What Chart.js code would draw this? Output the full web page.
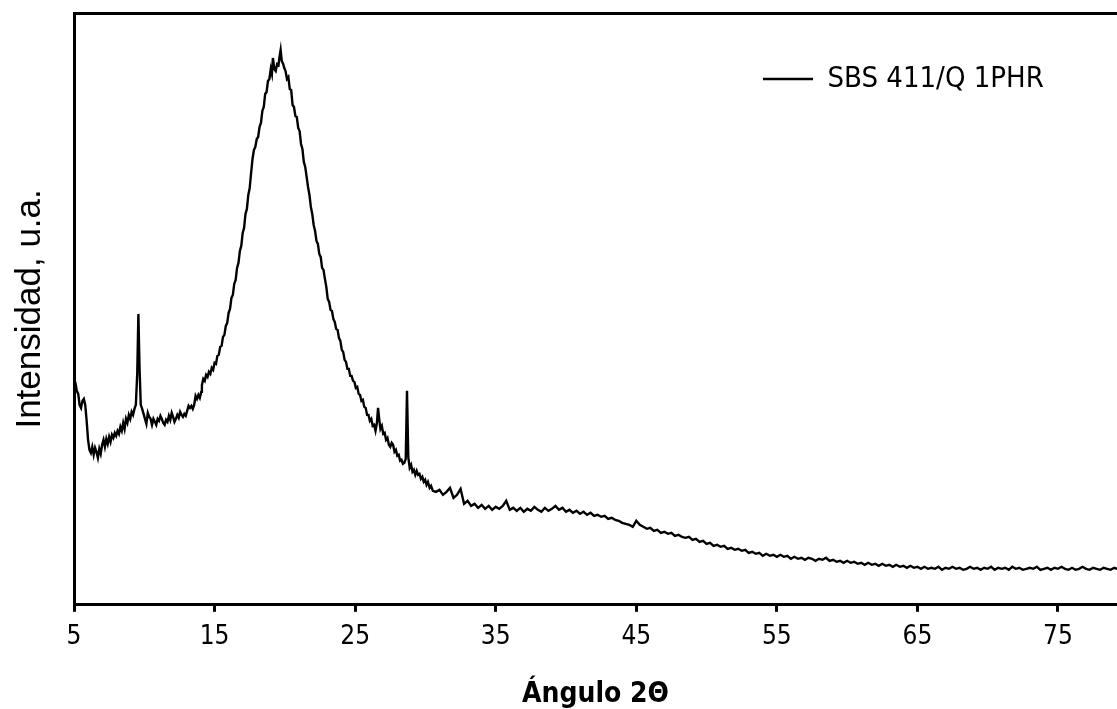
<!DOCTYPE html>
<html>
<head>
<meta charset="utf-8">
<script src="https://cdn.jsdelivr.net/npm/chart.js@4/dist/chart.umd.min.js"></script>
<style>
  html, body { margin: 0; padding: 0; background: #fff; overflow: hidden; }
</style>
</head>
<body>
<canvas id="xrd" width="1117" height="709"></canvas>
<script>
// 2-theta angles (degrees) and diffracted intensity (arbitrary units)
const angles = [
  5.0, 5.1, 5.2, 5.3, 5.4, 5.5, 5.6, 5.7, 5.8, 5.9, 6.0, 6.1, 6.2, 6.3, 6.4, 6.5, 6.6, 6.7, 6.8, 6.9,
  7.0, 7.1, 7.2, 7.3, 7.4, 7.5, 7.6, 7.7, 7.8, 7.9, 8.0, 8.1, 8.2, 8.3, 8.4, 8.5, 8.6, 8.7, 8.8, 8.9,
  9.0, 9.1, 9.2, 9.3, 9.4, 9.5, 9.58, 9.66, 9.75, 9.85, 9.95, 10.05, 10.15, 10.25, 10.35, 10.45, 10.55,
  10.65, 10.75, 10.85, 10.95, 11.05, 11.15, 11.25, 11.35, 11.45, 11.55, 11.65, 11.75, 11.85, 11.95,
  12.05, 12.15, 12.25, 12.35, 12.45, 12.55, 12.65, 12.75, 12.85, 12.95, 13.05, 13.15, 13.25, 13.35,
  13.45, 13.55, 13.65, 13.75, 13.85, 13.95, 14.05,
  14.1, 14.2, 14.3, 14.4, 14.5, 14.6, 14.7, 14.8, 14.9, 15.0,
  15.1, 15.2, 15.3, 15.4, 15.5, 15.6, 15.7, 15.8, 15.9, 16.0,
  16.1, 16.2, 16.3, 16.4, 16.5, 16.6, 16.7, 16.8, 16.9, 17.0,
  17.1, 17.2, 17.3, 17.4, 17.5, 17.6, 17.7, 17.8, 17.9, 18.0,
  18.1, 18.2, 18.3, 18.4, 18.5, 18.6, 18.7, 18.8, 18.9, 19.0,
  19.08, 19.15, 19.25, 19.35, 19.45, 19.55, 19.62, 19.7, 19.78, 19.88,
  19.96, 20.05, 20.15, 20.25, 20.35, 20.45, 20.55, 20.65, 20.75, 20.85,
  20.95, 21.05, 21.15, 21.25, 21.35, 21.45, 21.55, 21.65, 21.75, 21.85,
  21.95, 22.05, 22.15, 22.25, 22.35, 22.45, 22.55, 22.65, 22.75, 22.85,
  22.95, 23.05, 23.15, 23.25, 23.35, 23.45, 23.55, 23.65, 23.75, 23.85,
  23.95, 24.05, 24.15, 24.25, 24.35, 24.45, 24.55, 24.65, 24.75, 24.85,
  24.95, 25.05, 25.15, 25.25, 25.35, 25.45, 25.55, 25.65, 25.75, 25.85,
  25.95, 26.05, 26.15, 26.25, 26.35, 26.45, 26.55, 26.63, 26.72, 26.8,
  26.9, 27.0, 27.1, 27.2, 27.3, 27.4, 27.5, 27.6, 27.7, 27.8,
  27.9, 28.0, 28.1, 28.2, 28.3, 28.4, 28.5, 28.6, 28.69, 28.78,
  28.88, 28.98, 29.08, 29.18, 29.28, 29.38, 29.48, 29.58, 29.68, 29.78,
  29.88, 29.98, 30.08, 30.18, 30.3, 30.4, 30.53,
  30.75, 31.0, 31.25, 31.5, 31.75, 32.0, 32.25, 32.5, 32.75, 33.0, 33.25, 33.5, 33.75, 34.0, 34.25,
  34.5, 34.75, 35.0, 35.25, 35.5, 35.75, 36.0, 36.25, 36.5, 36.75, 37.0, 37.25, 37.5, 37.75, 38.0,
  38.25, 38.5, 38.75, 39.0, 39.25, 39.5, 39.75, 40.0, 40.25, 40.5, 40.75, 41.0, 41.25, 41.5, 41.75,
  42.0, 42.25, 42.5, 42.75, 43.0, 43.25, 43.5, 43.75, 44.0, 44.25, 44.5, 44.75, 45.0, 45.25, 45.5,
  45.75, 46.0, 46.25, 46.5, 46.75, 47.0, 47.25, 47.5, 47.75, 48.0, 48.25, 48.5, 48.75, 49.0, 49.25,
  49.5, 49.75, 50.0, 50.25, 50.5, 50.75, 51.0, 51.25, 51.5, 51.75, 52.0, 52.25, 52.5, 52.75, 53.0,
  53.25, 53.5, 53.75, 54.0, 54.25, 54.5, 54.75, 55.0, 55.25, 55.5, 55.75, 56.0, 56.25, 56.5, 56.75,
  57.0, 57.25, 57.5, 57.75, 58.0, 58.25, 58.5, 58.75, 59.0, 59.25, 59.5, 59.75, 60.0, 60.25, 60.5,
  60.75, 61.0, 61.25, 61.5, 61.75, 62.0, 62.25, 62.5, 62.75, 63.0, 63.25, 63.5, 63.75, 64.0, 64.25,
  64.5, 64.75, 65.0, 65.25, 65.5, 65.75, 66.0, 66.25, 66.5, 66.75, 67.0, 67.25, 67.5, 67.75, 68.0,
  68.25, 68.5, 68.75, 69.0, 69.25, 69.5, 69.75, 70.0, 70.25, 70.5, 70.75, 71.0, 71.25, 71.5, 71.75,
  72.0, 72.25, 72.5, 72.75, 73.0, 73.25, 73.5, 73.75, 74.0, 74.25, 74.5, 74.75, 75.0, 75.25, 75.5,
  75.75, 76.0, 76.25, 76.5, 76.75, 77.0, 77.25, 77.5, 77.75, 78.0, 78.25, 78.5, 78.75, 79.0, 79.2
];

const intensity = [
  226, 222, 214, 211, 200, 197, 204, 206, 200, 184, 165, 155, 152, 158, 150, 157, 153, 147, 156, 151,
  160, 165, 158, 166, 161, 168, 163, 170, 167, 172, 169, 174, 171, 178, 174, 182, 176, 186, 182, 190,
  186, 193, 190, 196, 200, 232, 291, 238, 200, 196, 191, 186, 181, 192, 188, 186, 180,
  186, 183, 180, 186, 184, 189, 186, 182, 180, 185, 183, 189, 185, 192,
  188, 183, 186, 190, 187, 193, 190, 188, 191, 189, 194, 199, 197, 199,
  196, 200, 209, 206, 210, 207, 213,
  220, 226, 224, 230, 228, 233, 231, 237, 235, 242,
  241, 249, 250, 258, 259, 268, 270, 279, 282, 292,
  296, 307, 310, 321, 325, 337, 342, 354, 359, 372,
  377, 391, 396, 410, 417, 432, 446, 455, 458, 466,
  468, 478, 482, 494, 498, 511, 513, 524, 526, 536,
  531, 547, 536, 534, 541, 540, 548, 555, 544, 541,
  537, 534, 526, 528, 516, 515, 500, 498, 489, 488,
  477, 474, 461, 456, 443, 438, 428, 418, 410, 398,
  391, 380, 374, 364, 361, 351, 348, 337, 335, 326,
  318, 306, 303, 295, 294, 286, 283, 276, 275, 267,
  264, 255, 253, 245, 243, 236, 236, 229, 229, 224,
  223, 217, 218, 211, 210, 204, 205, 198, 197, 190,
  190, 184, 186, 179, 180, 174, 182, 197, 185, 176,
  179, 171, 172, 165, 167, 160, 158, 162, 160, 153,
  155, 149, 150, 144, 145, 141, 142, 146, 214, 148,
  137, 140, 133, 135, 130, 134, 130, 131, 126, 128,
  123, 125, 120, 123, 117, 119, 114,
  113, 115, 110, 113, 117, 107, 110, 116, 101, 104, 99, 101, 97, 100, 96,
  99, 95, 98, 96, 99, 104, 95, 97, 94, 97, 93, 96, 94, 98, 95,
  93, 97, 94, 96, 99, 95, 97, 93, 95, 92, 94, 91, 93, 90, 92,
  89, 90, 88, 89, 86, 87, 85, 84, 82, 81, 80, 78, 84, 80, 78,
  76, 77, 74, 75, 72, 73, 71, 72, 69, 70, 68, 67, 68, 65, 66,
  63, 64, 61, 62, 59, 60, 58, 59, 56, 57, 55, 56, 54, 55, 52,
  53, 51, 52, 49, 51, 49, 50, 48, 50, 48, 49, 46, 48, 46, 47,
  45, 47, 46, 44, 46, 45, 47, 44, 45, 43, 44, 42, 44, 42, 43,
  41, 42, 40, 42, 40, 41, 39, 41, 39, 40, 38, 40, 38, 39, 37,
  39, 37, 38, 36, 38, 36, 37, 36, 38, 35, 37, 36, 38, 36, 37,
  35, 36, 38, 36, 37, 35, 37, 36, 38, 35, 37, 36, 37, 35, 38,
  36, 37, 35, 36, 37, 36, 38, 35, 36, 37, 35, 37, 36, 38, 36,
  35, 37, 35, 36, 38, 36, 35, 37, 36, 35, 37, 36, 35, 37, 36
];

const xTicks = [5, 15, 25, 35, 45, 55, 65, 75];
const seriesName = 'SBS 411/Q 1PHR';

const narrow = '"Liberation Sans Narrow", "Arial Narrow", "DejaVu Sans Condensed", sans-serif';

// legend box sits inside the plot, upper right
const legendPlace = {
  id: 'legendPlace',
  afterLayout(chart) {
    const lg = chart.legend;
    const area = chart.chartArea;
    lg.left = area.right - 362;
    lg.right = area.right;
    lg.top = area.top + 43.5;
  }
};

const ctx = document.getElementById('xrd').getContext('2d');
new Chart(ctx, {
  type: 'line',
  data: {
    datasets: [{
      label: seriesName,
      data: angles.map((a, i) => ({ x: a, y: intensity[i] })),
      borderColor: '#000',
      backgroundColor: '#000',
      borderWidth: 2.4,
      pointRadius: 0,
      fill: false,
      tension: 0,
      xAxisID: 'x',
      yAxisID: 'y'
    }]
  },
  options: {
    responsive: false,
    animation: false,
    devicePixelRatio: 1,
    events: [],
    layout: { padding: { top: 13, right: 0, bottom: 0, left: 9 } },
    scales: {
      x: {
        type: 'linear',
        position: 'bottom',
        min: 5,
        max: 79.2,
        afterBuildTicks: s => { s.ticks = xTicks.map(v => ({ value: v })); },
        grid: { display: true, drawOnChartArea: false, drawTicks: true, tickLength: 7, tickWidth: 3, tickColor: '#000' },
        border: { display: true, color: '#000', width: 3 },
        ticks: { color: '#000', font: { family: narrow, size: 26 }, padding: 10, maxRotation: 0, autoSkip: false },
        title: {
          display: true,
          text: 'Ángulo 2Θ',
          color: '#000',
          font: { family: narrow, size: 28, weight: 'bold', lineHeight: 1 },
          padding: { top: 18, bottom: 0 }
        }
      },
      x2: {
        type: 'linear',
        position: 'top',
        min: 5,
        max: 79.2,
        grid: { display: false, drawTicks: false },
        ticks: { display: false },
        border: { display: true, color: '#000', width: 3 }
      },
      y: {
        min: 0,
        max: 592,
        grid: { display: false, drawTicks: false },
        ticks: { display: false },
        border: { display: true, color: '#000', width: 3 },
        title: {
          display: true,
          text: 'Intensidad, u.a.',
          color: '#000',
          font: { family: '"Liberation Sans", Arial, sans-serif', size: 35 },
          padding: { top: 0, bottom: 23 }
        }
      }
    },
    plugins: {
      legend: {
        display: true,
        position: 'chartArea',
        align: 'start',
        labels: {
          color: '#000',
          font: { family: narrow, size: 29 },
          usePointStyle: true,
          pointStyle: 'line',
          pointStyleWidth: 50,
          padding: 8
        }
      },
      tooltip: { enabled: false }
    }
  },
  plugins: [legendPlace]
});
</script>
</body>
</html>
